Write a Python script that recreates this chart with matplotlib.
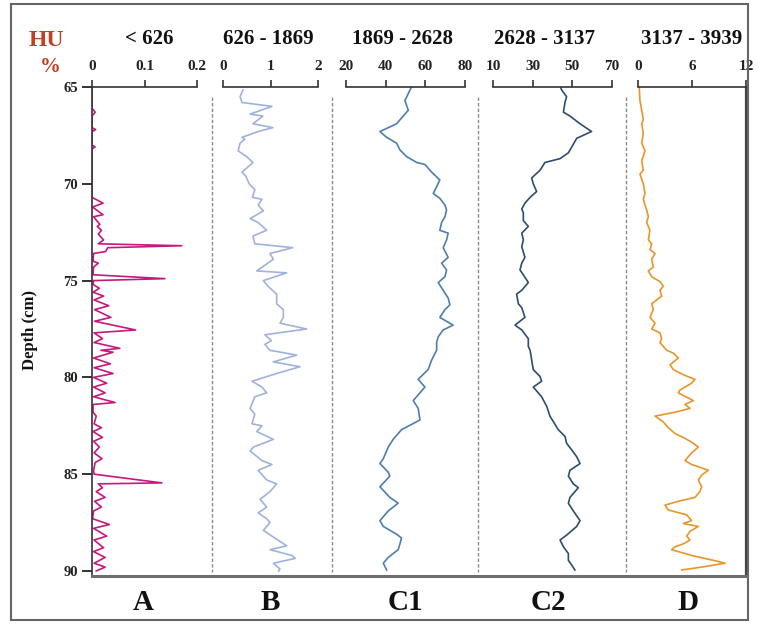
import matplotlib
matplotlib.use("Agg")
import matplotlib.pyplot as plt
from matplotlib.lines import Line2D
from matplotlib.patches import Rectangle

# ---- data (depth in cm, percentage) ----
a_depth = [65.0, 66.1, 66.3, 66.5, 67.1, 67.2, 67.3, 68.0, 68.1, 68.2, 70.7, 71.0, 71.2, 71.6,
           71.7, 72.1, 72.2, 72.4, 72.6, 72.9, 73.1, 73.2, 73.3, 73.5, 73.6, 74.0, 74.1, 74.3,
           74.7, 74.9, 75.0, 75.2, 75.4, 75.6, 75.8, 76.0, 76.3, 76.5, 76.9, 77.1, 77.55, 77.7,
           78.0, 78.2, 78.5, 78.6, 78.7, 79.0, 79.3, 79.5, 79.8, 80.0, 80.3, 80.5, 80.8, 81.0,
           81.3, 81.4, 81.8, 82.0, 82.4, 82.6, 82.8, 83.1, 83.3, 83.6, 83.9, 84.2, 84.4, 84.8,
           85.0, 85.45, 85.5, 85.7, 85.9, 86.2, 86.4, 86.7, 86.9, 87.3, 87.6, 87.8, 88.2, 88.4,
           88.8, 89.0, 89.3, 89.6, 89.8, 90.0]
a_pct = [0, 0, 0.006, 0, 0, 0.007, 0, 0, 0.006, 0, 0, 0.021, 0.001, 0.021,
         0.003, 0.015, 0.010, 0.018, 0.012, 0.022, 0.012, 0.171, 0.030, 0.026, 0.003, 0.002, 0.012, 0.003,
         0.002, 0.139, 0.003, 0.002, 0.014, 0.002, 0.022, 0.004, 0.032, 0.005, 0.036, 0.005, 0.083, 0.004,
         0.020, 0.004, 0.053, 0.017, 0.040, 0.003, 0.035, 0.004, 0.040, 0.003, 0.028, 0.003, 0.025, 0.003,
         0.044, 0.002, 0.002, 0.008, 0.004, 0.018, 0.002, 0.020, 0.003, 0.014, 0.004, 0.019, 0.006, 0.003,
         0.004, 0.133, 0.012, 0.020, 0.008, 0.025, 0.005, 0.018, 0.003, 0.001, 0.033, 0.003, 0.028, 0.004,
         0.022, 0.003, 0.025, 0.004, 0.025, 0.008]

b_depth = [65.15, 65.5, 65.8, 66.0, 66.4, 66.5, 66.9, 67.1, 67.3, 67.6, 67.7, 67.9, 68.3, 68.6,
           68.9, 69.4, 69.6, 70.0, 70.3, 70.7, 70.8, 71.1, 71.4, 71.8, 72.0, 72.4, 72.7, 73.1,
           73.3, 73.6, 73.9, 74.5, 74.6, 75.0, 75.3, 75.7, 76.2, 76.5, 76.9, 77.2, 77.5, 77.8,
           78.1, 78.3, 78.6, 78.85, 79.2, 79.45, 79.8, 80.2, 80.5, 80.8, 81.0, 81.6, 81.9, 82.4,
           82.5, 82.8, 83.2, 83.6, 83.8, 84.3, 84.5, 84.8, 85.3, 85.5, 85.9, 86.3, 86.7, 87.0,
           87.3, 87.5, 87.9, 88.2, 88.7, 88.9, 89.2, 89.35, 89.6, 89.9, 90.0]
b_pct = [0.42, 0.36, 0.40, 1.03, 0.57, 0.84, 0.63, 1.05, 0.74, 0.40, 0.46, 0.36, 0.32, 0.50,
         0.63, 0.40, 0.48, 0.55, 0.67, 0.62, 0.82, 0.74, 0.85, 0.57, 0.74, 0.92, 0.63, 0.67,
         1.47, 0.99, 1.06, 0.71, 1.34, 0.85, 0.95, 1.13, 1.13, 1.27, 1.27, 1.20, 1.76, 0.88,
         1.02, 0.88, 0.99, 1.55, 1.06, 1.62, 1.13, 0.61, 0.82, 0.92, 0.67, 0.57, 0.67, 0.61,
         0.82, 0.71, 1.06, 0.64, 0.57, 0.82, 1.03, 0.74, 0.92, 1.13, 0.99, 0.78, 0.92, 0.74,
         0.92, 0.99, 0.85, 1.03, 1.34, 0.99, 1.45, 1.52, 1.06, 1.20, 1.17]

c1_depth = [65.0, 65.15, 65.7, 66.2, 66.4, 66.9, 67.3, 67.6, 67.9, 68.25, 68.6, 68.9, 69.0, 69.4,
            69.8, 70.15, 70.5, 70.75, 71.1, 71.35, 71.7, 72.0, 72.4, 72.55, 72.9, 73.3, 73.8, 74.1,
            74.45, 74.8, 75.1, 75.5, 75.9, 76.25, 76.5, 76.9, 77.3, 77.55, 77.9, 78.2, 78.6, 79.1,
            79.6, 80.1, 80.5, 81.2, 81.6, 82.2, 82.7, 83.2, 83.6, 84.2, 84.45, 84.9, 85.1, 85.65,
            86.2, 86.5, 86.9, 87.4, 87.7, 88.1, 88.3, 88.6, 88.9, 89.3, 89.6, 89.95]
c1_pct = [53.0, 52.3, 49.7, 51.4, 49.7, 45.5, 37.1, 40.5, 45.5, 47.2, 50.6, 55.7, 59.8, 63.2,
          67.3, 65.7, 64.0, 67.3, 69.9, 70.7, 69.9, 68.2, 67.3, 71.5, 70.7, 69.0, 71.5, 68.2,
          70.7, 69.9, 66.5, 69.0, 71.5, 72.4, 69.9, 67.3, 74.0, 69.0, 66.5, 65.7, 65.7, 63.2,
          61.4, 56.4, 59.8, 53.9, 56.4, 57.3, 48.0, 43.8, 41.3, 38.8, 37.1, 41.3, 42.1, 37.1,
          42.1, 46.3, 41.3, 37.1, 38.8, 45.5, 48.0, 47.2, 46.3, 41.3, 38.8, 40.5]

c2_depth = [65.0, 65.15, 65.5, 65.8, 66.3, 66.5, 66.9, 67.3, 67.65, 68.1, 68.4, 68.7, 68.9, 69.3,
            69.7, 70.0, 70.4, 70.7, 71.0, 71.3, 71.5, 71.9, 72.2, 72.55, 72.9, 73.25, 73.8, 74.1,
            74.45, 74.7, 75.1, 75.5, 75.7, 76.2, 76.4, 76.9, 77.3, 77.55, 78.0, 78.4, 78.6, 79.1,
            79.6, 79.95, 80.2, 80.5, 81.0, 81.5, 82.0, 82.7, 83.05, 83.4, 83.75, 84.1, 84.45, 84.8,
            85.1, 85.5, 85.7, 86.2, 86.5, 86.9, 87.4, 87.7, 88.15, 88.4, 88.75, 89.1, 89.45, 89.7,
            89.95]
c2_pct = [44.0, 44.6, 47.1, 46.3, 45.5, 48.8, 53.9, 59.7, 52.2, 49.7, 48.0, 43.8, 36.2, 33.7,
          29.5, 30.3, 32.0, 28.7, 26.1, 24.5, 25.3, 25.3, 27.8, 24.5, 25.3, 24.5, 26.1, 24.5,
          23.6, 25.3, 27.8, 24.5, 21.9, 22.8, 24.5, 26.1, 21.1, 24.5, 27.8, 27.8, 28.7, 29.5,
          30.3, 33.7, 34.5, 30.3, 34.5, 37.1, 38.7, 42.9, 46.3, 47.1, 49.7, 52.2, 53.9, 48.8,
          48.0, 50.5, 53.0, 48.8, 48.0, 50.5, 53.9, 52.2, 47.1, 43.8, 45.5, 48.0, 48.0, 49.7,
          51.3]

d_depth = [65.0, 65.15, 65.7, 66.2, 66.7, 66.9, 67.4, 67.9, 68.3, 68.8, 69.3, 69.5, 70.0, 70.5,
           70.8, 71.35, 71.7, 72.0, 72.4, 72.9, 73.1, 73.4, 73.6, 73.9, 74.3, 74.5, 74.8, 75.05,
           75.3, 75.5, 75.8, 76.2, 76.5, 76.9, 77.2, 77.5, 77.7, 78.0, 78.2, 78.6, 78.75, 79.0,
           79.35, 79.6, 79.9, 80.1, 80.3, 80.65, 80.8, 81.2, 81.4, 81.6, 81.8, 82.0, 82.3, 82.6,
           82.9, 83.15, 83.4, 83.6, 83.9, 84.3, 84.5, 84.8, 85.05, 85.3, 85.65, 85.9, 86.2, 86.4,
           86.6, 86.85, 87.1, 87.4, 87.55, 87.7, 87.95, 88.2, 88.4, 88.6, 88.75, 88.9, 89.2, 89.45,
           89.6, 89.8, 89.95]
d_pct = [0.15, 0.15, 0.22, 0.41, 0.59, 0.41, 0.59, 0.41, 0.78, 0.41, 0.59, 0.22, 0.59, 0.78,
         0.59, 0.96, 1.15, 0.96, 1.33, 1.15, 1.52, 1.33, 1.89, 1.52, 1.70, 1.15, 1.52, 2.44,
         2.81, 2.44, 2.63, 1.52, 1.70, 1.33, 1.89, 1.52, 2.44, 2.63, 2.44, 3.19, 3.93, 4.48,
         3.56, 3.93, 5.22, 6.33, 5.96, 4.67, 4.48, 6.15, 5.22, 5.78, 4.11, 1.89, 2.81, 3.37,
         4.11, 5.22, 6.15, 6.70, 5.96, 5.22, 5.96, 7.81, 7.07, 6.70, 7.07, 6.89, 6.33, 4.48,
         3.00, 3.37, 5.41, 5.96, 5.04, 6.70, 5.78, 5.41, 5.78, 5.04, 4.11, 3.74, 5.96, 8.37,
         9.67, 7.07, 4.85]

ranges = ["< 626", "626 - 1869", "1869 - 2628", "2628 - 3137", "3137 - 3939"]
letters = ["A", "B", "C1", "C2", "D"]
xlims = [(0, 0.2), (0, 2), (20, 80), (10, 70), (0, 12)]
xticks = [[0, 0.1, 0.2], [0, 1, 2], [20, 40, 60, 80], [10, 30, 50, 70], [0, 6, 12]]
xticklabels = [["0", "0.1", "0.2"], ["0", "1", "2"], ["20", "40", "60", "80"],
               ["10", "30", "50", "70"], ["0", "6", "12"]]
depth_ticks = [65, 70, 75, 80, 85, 90]

series = [(a_depth, a_pct), (b_depth, b_pct), (c1_depth, c1_pct),
          (c2_depth, c2_pct), (d_depth, d_pct)]
colors = ["#c8177f", "#9fb2de", "#4d7fae", "#2e4d6c", "#e8952a"]

# ---- layout (pixels of the 759x626 picture) ----
W, H = 759, 626
top_px, bot_px = 87, 576
panel_px = [(92, 197), (223, 318), (346, 465), (493, 612), (638, 746)]
title_x = [149, 268, 402, 544, 692]
letter_x = [143, 270, 405, 548, 688]
sep_x = [212, 332, 478, 626]

plt.rcParams['font.family'] = ['Liberation Serif', 'DejaVu Serif']
plt.rcParams['font.weight'] = 'bold'

fig = plt.figure(figsize=(W / 100, H / 100), dpi=100)


def fx(px):
    return px / W


def fy(py):
    return 1 - py / H


for i, (dep, val) in enumerate(series):
    x0, x1 = panel_px[i]
    ax = fig.add_axes([fx(x0), fy(bot_px), (x1 - x0) / W, (bot_px - top_px) / H])
    ax.plot(val, dep, color=colors[i], lw=1.2)
    ax.set_xlim(*xlims[i])
    ax.set_ylim(90.26, 65)
    ax.set_xticks(xticks[i])
    ax.set_xticklabels(xticklabels[i])
    ax.xaxis.tick_top()
    ax.tick_params(axis='x', direction='out', length=5, width=1.1, pad=5,
                   labelsize=11, colors='#222222')
    ax.patch.set_alpha(0)
    for s in ['bottom', 'left', 'right']:
        ax.spines[s].set_visible(False)
    ax.spines['top'].set_color('#333333')
    ax.spines['top'].set_linewidth(1.2)
    if i == 0:
        ax.spines['left'].set_visible(True)
        ax.spines['left'].set_color('#333333')
        ax.spines['left'].set_linewidth(1.2)
        ax.set_yticks(depth_ticks)
        ax.tick_params(axis='y', direction='out', length=7, width=1.3, pad=3,
                       labelsize=10.5, colors='#222222')
    else:
        ax.set_yticks([])
    if i == 4:
        ax.spines['right'].set_visible(True)
        ax.spines['right'].set_color('#444444')
        ax.spines['right'].set_linewidth(1.6)

    fig.text(fx(title_x[i]), fy(39), ranges[i], ha='center', va='center',
             fontsize=15, fontweight='bold', color='#111111')
    fig.text(fx(letter_x[i]), fy(602), letters[i], ha='center', va='center',
             fontsize=21, fontweight='bold', color='#111111')

# dashed separators
for x in sep_x:
    fig.add_artist(Line2D([fx(x), fx(x)], [fy(97), fy(572)], color='#8a8a8a',
                          lw=1.0, ls=(0, (2.5, 1.5))))

# bottom baseline
fig.add_artist(Line2D([fx(92), fx(747)], [fy(bot_px), fy(bot_px)], color='#6e6e6e', lw=2.2))

# outer frame
fig.add_artist(Rectangle((fx(11), fy(620)), fx(748) - fx(11), fy(4) - fy(620),
                         fill=False, ec='#666666', lw=1.5))

fig.text(fx(46), fy(40), "HU", ha='center', va='center', fontsize=17,
         fontweight='bold', color='#c43d24')
fig.text(fx(50), fy(67), "%", ha='center', va='center', fontsize=15,
         fontweight='bold', color='#c43d24')
fig.text(fx(30), fy(330), "Depth (cm)", ha='center', va='center', rotation=90,
         fontsize=12, fontweight='bold', color='#111111')

fig.savefig("out.png", dpi=100)
